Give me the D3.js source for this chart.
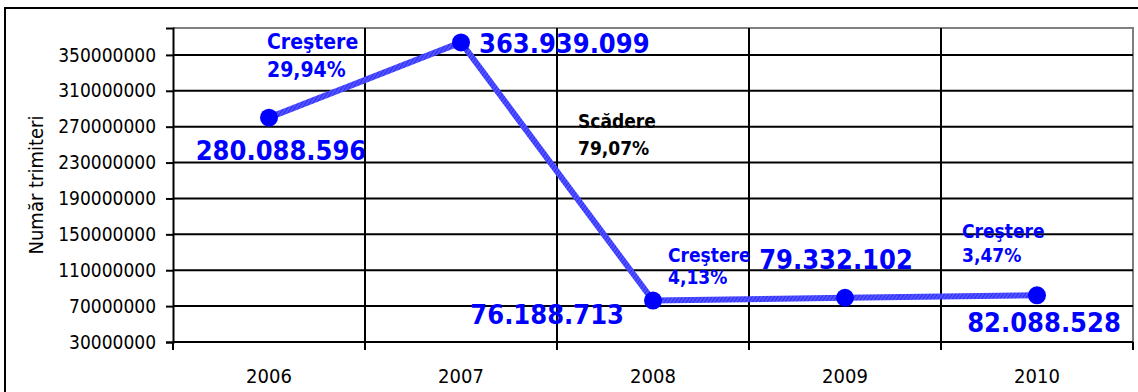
<!DOCTYPE html>
<html>
<head>
<meta charset="utf-8">
<script src="https://cdn.jsdelivr.net/npm/d3@7"></script>
<style>
  body { margin: 0; background: #fff; }
  svg { display: block; font-family: "DejaVu Sans Condensed", "DejaVu Sans", sans-serif; font-stretch: condensed; }
</style>
</head>
<body>
<svg id="chart"></svg>
<script>
// data
const years = ["2006", "2007", "2008", "2009", "2010"];
const trimiteri = [280088596, 363939099, 76188713, 79332102, 82088528];
const valueLabels = ["280.088.596", "363.939.099", "76.188.713", "79.332.102", "82.088.528"];
const yTicks = [30000000, 70000000, 110000000, 150000000, 190000000, 230000000, 270000000, 310000000, 350000000];
const yTitle = "Număr trimiteri";

// label placement, relative to the marker
const valueOffsets = [
  { dx: 12, dy: 42, anchor: "middle" },
  { dx: 18, dy: 11, anchor: "start" },
  { dx: -29, dy: 23, anchor: "end" },
  { dx: -9, dy: -29, anchor: "middle" },
  { dx: 7, dy: 37, anchor: "middle" }
];
// change notes, anchored to the marker of the first year of each step
const changeNotes = [
  { from: 0, dx: -2, dy: -69, gap: 28, size: 21, color: "#0000ff" },
  { from: 1, dx: 117, dy: 86, gap: 27, size: 19, color: "#000" },
  { from: 2, dx: 15, dy: -39, gap: 22, size: 19, color: "#0000ff" },
  { from: 3, dx: 117, dy: -60, gap: 24, size: 19, color: "#0000ff" }
];

const config = {
  width: 1138,
  height: 392,
  margin: { top: 28, right: 5, bottom: 50, left: 173 },
  get innerRight() { return this.width - this.margin.right; },
  get innerBottom() { return this.height - this.margin.bottom; }
};

const svg = d3.select("#chart").attr("width", config.width).attr("height", config.height);

// striped stroke like the original line
const pat = svg.append("defs").append("pattern")
  .attr("id", "stripes")
  .attr("patternUnits", "userSpaceOnUse")
  .attr("width", 3).attr("height", 3)
  .attr("patternTransform", "rotate(35)");
pat.append("rect").attr("width", 3).attr("height", 3).attr("fill", "#5555ff");
pat.append("rect").attr("width", 1).attr("height", 3).attr("fill", "#2a2aff");

// outer frame
svg.append("rect")
  .attr("x", 5).attr("y", 8)
  .attr("width", config.width + 20).attr("height", config.height + 20)
  .attr("fill", "none").attr("stroke", "#000").attr("stroke-width", 2);

const x = d3.scaleBand()
  .domain(years)
  .range([config.margin.left, config.innerRight])
  .padding(0);

const y = d3.scaleLinear()
  .domain([30000000, 380000000])
  .range([config.innerBottom, config.margin.top]);

// plot area border (top/right grey)
svg.append("path")
  .attr("d", `M${config.margin.left},${config.margin.top}H${config.innerRight}V${config.innerBottom}`)
  .attr("fill", "none").attr("stroke", "#808080").attr("stroke-width", 2);

// horizontal grid
svg.append("g")
  .selectAll("line")
  .data(yTicks.slice(1))
  .join("line")
  .attr("x1", config.margin.left).attr("x2", config.innerRight)
  .attr("y1", d => y(d)).attr("y2", d => y(d))
  .attr("stroke", "#000").attr("stroke-width", 2);

// vertical grid at category boundaries
svg.append("g")
  .selectAll("line")
  .data(years.slice(1))
  .join("line")
  .attr("x1", d => x(d)).attr("x2", d => x(d))
  .attr("y1", config.margin.top).attr("y2", config.innerBottom)
  .attr("stroke", "#000").attr("stroke-width", 2);

// y axis
const yAxis = svg.append("g")
  .attr("transform", `translate(${config.margin.left},0)`)
  .call(d3.axisLeft(y).tickValues(yTicks).tickFormat(d3.format("d")).tickSize(7).tickPadding(10));
yAxis.select(".domain").attr("stroke", "#000").attr("stroke-width", 2);
yAxis.selectAll(".tick line").attr("stroke", "#000").attr("stroke-width", 2);
yAxis.selectAll(".tick text")
  .attr("font-size", 19).attr("fill", "#000")
  .attr("font-family", "DejaVu Sans Condensed, DejaVu Sans, sans-serif");

// x axis, ticks on the boundaries, labels centred
const xAxis = svg.append("g")
  .attr("transform", `translate(0,${config.innerBottom})`);
xAxis.append("line")
  .attr("x1", config.margin.left).attr("x2", config.innerRight)
  .attr("stroke", "#000").attr("stroke-width", 2);
xAxis.selectAll(".xt")
  .data(years.concat(["end"]))
  .join("line")
  .attr("class", "xt")
  .attr("x1", d => d === "end" ? config.innerRight : x(d))
  .attr("x2", d => d === "end" ? config.innerRight : x(d))
  .attr("y1", 0).attr("y2", 8)
  .attr("stroke", "#000").attr("stroke-width", 2);
xAxis.selectAll("text")
  .data(years)
  .join("text")
  .attr("x", d => x(d) + x.bandwidth() / 2)
  .attr("y", 41)
  .attr("text-anchor", "middle")
  .attr("font-size", 20)
  .text(d => d);

// y title
svg.append("text")
  .attr("transform", `translate(43,${(config.margin.top + config.innerBottom) / 2}) rotate(-90)`)
  .attr("text-anchor", "middle")
  .attr("font-size", 20)
  .text(yTitle);

const pts = years.map((yr, i) => ({
  year: yr,
  value: trimiteri[i],
  label: valueLabels[i],
  px: x(yr) + x.bandwidth() / 2,
  py: y(trimiteri[i])
}));

// series line
svg.append("path")
  .datum(pts)
  .attr("d", d3.line().x(d => d.px).y(d => d.py))
  .attr("fill", "none")
  .attr("stroke", "url(#stripes)")
  .attr("stroke-width", 6)
  .attr("stroke-linejoin", "round");

svg.append("g")
  .selectAll("circle")
  .data(pts)
  .join("circle")
  .attr("cx", d => d.px).attr("cy", d => d.py)
  .attr("r", 9)
  .attr("fill", "#0000ff");

// value labels
svg.append("g")
  .selectAll("text")
  .data(pts)
  .join("text")
  .attr("x", (d, i) => d.px + valueOffsets[i].dx)
  .attr("y", (d, i) => d.py + valueOffsets[i].dy)
  .attr("text-anchor", (d, i) => valueOffsets[i].anchor)
  .attr("font-size", 27)
  .attr("font-weight", "bold")
  .attr("fill", "#0000ff")
  .text(d => d.label);

// change notes (percent computed from the series)
const pct = d3.format(".2f");
const notes = svg.append("g")
  .selectAll("text")
  .data(changeNotes)
  .join("text")
  .attr("font-weight", "bold")
  .attr("font-size", d => d.size)
  .attr("fill", d => d.color);
notes.each(function(n) {
  const a = trimiteri[n.from], b = trimiteri[n.from + 1];
  const up = b >= a;
  const p = pct(Math.abs(b - a) / a * 100).replace(".", ",") + "%";
  const x0 = pts[n.from].px + n.dx;
  const y0 = pts[n.from].py + n.dy;
  const t = d3.select(this);
  t.append("tspan").attr("x", x0).attr("y", y0).text(up ? "Creştere" : "Scădere");
  t.append("tspan").attr("x", x0).attr("y", y0 + n.gap).text(p);
});
</script>
</body>
</html>
